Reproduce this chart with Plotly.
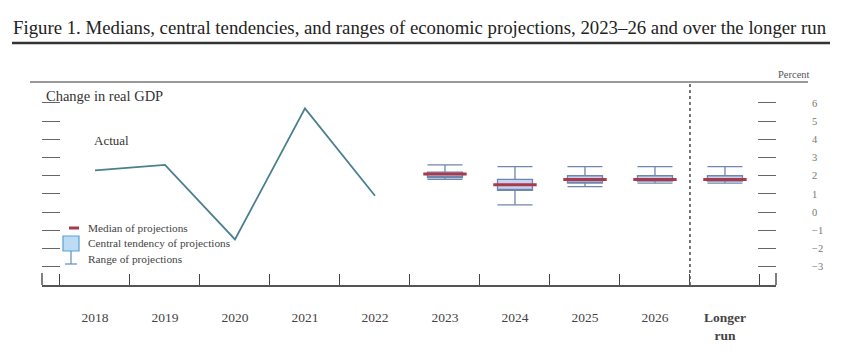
import plotly.graph_objects as go

# ---- data ----
categories = ["2018", "2019", "2020", "2021", "2022", "2023", "2024", "2025", "2026", "Longer run"]
tick_labels = ["2018", "2019", "2020", "2021", "2022", "2023", "2024", "2025", "2026", "<b>Longer</b><br><b>run</b>"]
actual_years = ["2018", "2019", "2020", "2021", "2022"]
actual_gdp = [2.3, 2.6, -1.5, 5.7, 0.9]
proj_years = ["2023", "2024", "2025", "2026", "Longer run"]
median = [2.1, 1.5, 1.8, 1.8, 1.8]
ct_low = [1.9, 1.2, 1.6, 1.7, 1.7]
ct_high = [2.2, 1.8, 2.0, 2.0, 2.0]
range_low = [1.8, 0.4, 1.4, 1.6, 1.6]
range_high = [2.6, 2.5, 2.5, 2.5, 2.5]
y_ticks = [-3, -2, -1, 0, 1, 2, 3, 4, 5, 6]

W, H = 848, 351
L, R, T, B = 42, 72, 82, 66
PW, PH = W - L - R, H - T - B


def px(x):
    return (x - L) / PW


def py(y):
    return (H - B - y) / PH


SERIF = "Liberation Serif"

fig = go.Figure()

fig.add_trace(go.Scatter(
    x=actual_years, y=actual_gdp, mode="lines",
    line=dict(color="#4a7f8f", width=1.8), showlegend=False, hoverinfo="skip"))

fig.add_trace(go.Box(
    x=proj_years, q1=ct_low, median=ct_low, q3=ct_high,
    lowerfence=range_low, upperfence=range_high,
    width=0.5, whiskerwidth=1, boxpoints=False,
    fillcolor="#c9d2ee", line=dict(color="#6f86ad", width=1.3),
    showlegend=False, hoverinfo="skip"))

fig.add_trace(go.Scatter(
    x=proj_years, y=median, mode="markers", yaxis="y2",
    marker=dict(symbol="line-ew", size=31, line=dict(color="#a83a4c", width=3)),
    showlegend=False, hoverinfo="skip"))

yr = [-4, 7.15]
fig.update_layout(
    width=W, height=H, margin=dict(l=L, r=R, t=T, b=B, autoexpand=False),
    paper_bgcolor="white", plot_bgcolor="white",
    font=dict(family=SERIF, color="#333"),
    xaxis=dict(type="category", categoryorder="array", categoryarray=categories,
               range=[-0.757, 9.729], tickmode="array", tickvals=categories, ticktext=tick_labels,
               tickson="boundaries", ticks="inside", ticklen=11, tickwidth=1.3, tickcolor="#444",
               showline=True, linecolor="#555", linewidth=1.5, showgrid=False, zeroline=False,
               automargin=False,
               tickfont=dict(family=SERIF, size=13.5, color="#444"), ticklabelstandoff=19),
    yaxis=dict(range=yr, tickvals=y_ticks, ticks="inside", ticklen=18, tickwidth=1.3,
               tickcolor="#666", showticklabels=False, showgrid=False, zeroline=False,
               showline=False, automargin=False),
    yaxis2=dict(range=yr, overlaying="y", side="right", tickvals=y_ticks, ticks="inside",
                ticklen=18, tickwidth=1.3, tickcolor="#666", showgrid=False, zeroline=False,
                showline=False, ticklabelstandoff=35, automargin=False,
                tickfont=dict(family=SERIF, size=10.5, color="#777")),
)

shapes = [
    # separator before longer run
    dict(type="line", xref="x", yref="paper", x0=8.5, x1=8.5, y0=0, y1=1,
         line=dict(color="#555", width=1.6, dash="dot")),
    # frame top line
    dict(type="line", xref="paper", yref="paper", x0=px(30), x1=px(808), y0=1, y1=1,
         line=dict(color="#777", width=1.5)),
    # end verticals of x axis
    dict(type="line", xref="paper", yref="paper", x0=0, x1=0, y0=0, y1=py(273),
         line=dict(color="#555", width=1.5)),
    dict(type="line", xref="paper", yref="paper", x0=1, x1=1, y0=0, y1=py(273),
         line=dict(color="#555", width=1.5)),
    # title rule
    dict(type="line", xref="paper", yref="paper", x0=px(12), x1=px(830), y0=py(43), y1=py(43),
         line=dict(color="#333", width=2.5)),
    # legend icons
    dict(type="line", xref="paper", yref="paper", x0=px(69), x1=px(79), y0=py(228), y1=py(228),
         line=dict(color="#a83a4c", width=3)),
    dict(type="rect", xref="paper", yref="paper", x0=px(63), x1=px(79), y0=py(251), y1=py(236),
         line=dict(color="#5a9fd4", width=1.2), fillcolor="#bcdcf4"),
    dict(type="line", xref="paper", yref="paper", x0=px(71), x1=px(71), y0=py(264), y1=py(251),
         line=dict(color="#5a8fc0", width=1.2)),
    dict(type="line", xref="paper", yref="paper", x0=px(65), x1=px(77), y0=py(264), y1=py(264),
         line=dict(color="#5a8fc0", width=1.2)),
]
fig.update_layout(shapes=shapes)


def ann(text, x, y, size, xanchor="left", color="#333"):
    fig.add_annotation(text=text, x=px(x), y=py(y), xref="paper", yref="paper",
                       xanchor=xanchor, yanchor="middle", showarrow=False,
                       font=dict(family=SERIF, size=size, color=color))


ann("Figure 1. Medians, central tendencies, and ranges of economic projections, 2023\u201326 and over the longer run",
    11, 27, 18.8, color="#222")
ann("Percent", 794, 74, 10.5, xanchor="center", color="#555")
ann("Change in real GDP", 44, 96, 14.5, color="#333")
ann("Actual", 92, 140, 13, color="#333")
ann("Median of projections", 86, 228, 11.3, color="#444")
ann("Central tendency of projections", 86, 243, 11.3, color="#444")
ann("Range of projections", 86, 259, 11.3, color="#444")

fig.write_html("out.html")
